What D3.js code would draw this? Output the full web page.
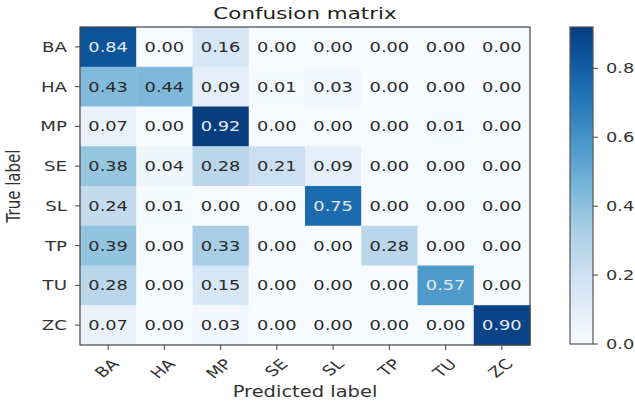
<!DOCTYPE html>
<html>
<head>
<meta charset="utf-8">
<script src="https://cdn.jsdelivr.net/npm/d3@7"></script>
<style>
  body { margin: 0; background: #fff; }
  svg text { font-family: "DejaVu Sans", sans-serif; }
</style>
</head>
<body>
<div id="chart"></div>
<script>
const classes = ["BA", "HA", "MP", "SE", "SL", "TP", "TU", "ZC"];
const matrix = [
  [0.84, 0.00, 0.16, 0.00, 0.00, 0.00, 0.00, 0.00],
  [0.43, 0.44, 0.09, 0.01, 0.03, 0.00, 0.00, 0.00],
  [0.07, 0.00, 0.92, 0.00, 0.00, 0.00, 0.01, 0.00],
  [0.38, 0.04, 0.28, 0.21, 0.09, 0.00, 0.00, 0.00],
  [0.24, 0.01, 0.00, 0.00, 0.75, 0.00, 0.00, 0.00],
  [0.39, 0.00, 0.33, 0.00, 0.00, 0.28, 0.00, 0.00],
  [0.28, 0.00, 0.15, 0.00, 0.00, 0.00, 0.57, 0.00],
  [0.07, 0.00, 0.03, 0.00, 0.00, 0.00, 0.00, 0.90]
];
const barTicks = [0, 0.2, 0.4, 0.6, 0.8];

const width = 635, height = 402;
const sx = 1.3; // the picture is stretched sideways
const plot = { left: 80, top: 27, right: 530, bottom: 345 };
const bar = { left: 570, right: 593 };

const svg = d3.select("#chart").append("svg")
  .attr("width", width)
  .attr("height", height);

const vmax = d3.max(matrix.flat());
// reference looks a little washed out at the dark end
const color = d3.scaleSequential(d3.interpolateBlues).domain([0, vmax / 0.95]);

const x = d3.scaleBand().domain(classes).range([plot.left, plot.right]);
const y = d3.scaleBand().domain(classes).range([plot.top, plot.bottom]);

const cells = [];
matrix.forEach((row, i) => row.forEach((v, j) => cells.push({ t: classes[i], p: classes[j], v })));

svg.append("g").selectAll("rect")
  .data(cells)
  .join("rect")
  .attr("x", d => x(d.p))
  .attr("y", d => y(d.t))
  .attr("width", x.bandwidth() + 0.5)
  .attr("height", y.bandwidth() + 0.5)
  .attr("fill", d => color(d.v));

svg.append("g").selectAll("text")
  .data(cells)
  .join("text")
  .attr("transform", d => `translate(${x(d.p) + x.bandwidth() / 2},${y(d.t) + y.bandwidth() / 2}) scale(${sx},1)`)
  .attr("text-anchor", "middle")
  .attr("dy", "0.36em")
  .attr("font-size", "13.7px")
  .attr("fill", d => d.v > vmax / 2 ? "#e4ebf5" : "#2a2a2a")
  .text(d => d.v.toFixed(2));

// frame
svg.append("rect")
  .attr("x", plot.left)
  .attr("y", plot.top)
  .attr("width", plot.right - plot.left)
  .attr("height", plot.bottom - plot.top)
  .attr("fill", "none")
  .attr("stroke", "#444")
  .attr("stroke-width", 1.2);

// y axis ticks
const yAxis = svg.append("g");
yAxis.selectAll("line")
  .data(classes)
  .join("line")
  .attr("x1", plot.left - 5)
  .attr("x2", plot.left)
  .attr("y1", d => y(d) + y.bandwidth() / 2)
  .attr("y2", d => y(d) + y.bandwidth() / 2)
  .attr("stroke", "#444");
yAxis.selectAll("text")
  .data(classes)
  .join("text")
  .attr("transform", d => `translate(${plot.left - 13},${y(d) + y.bandwidth() / 2}) scale(${sx},1)`)
  .attr("text-anchor", "end")
  .attr("dy", "0.36em")
  .attr("font-size", "14px")
  .attr("fill", "#333")
  .text(d => d);

// x axis ticks
const xAxis = svg.append("g");
xAxis.selectAll("line")
  .data(classes)
  .join("line")
  .attr("x1", d => x(d) + x.bandwidth() / 2)
  .attr("x2", d => x(d) + x.bandwidth() / 2)
  .attr("y1", plot.bottom)
  .attr("y2", plot.bottom + 5)
  .attr("stroke", "#444");
xAxis.selectAll("text")
  .data(classes)
  .join("text")
  .attr("transform", d => `translate(${x(d) + x.bandwidth() / 2 + 3},${plot.bottom + 13}) scale(${sx},1) rotate(-45)`)
  .attr("text-anchor", "end")
  .attr("dy", "0.7em")
  .attr("font-size", "14px")
  .attr("fill", "#333")
  .text(d => d);

// title and axis labels
svg.append("text")
  .attr("transform", `translate(${(plot.left + plot.right) / 2},19) scale(${sx},1)`)
  .attr("text-anchor", "middle")
  .attr("font-size", "16.5px")
  .attr("fill", "#222")
  .text("Confusion matrix");

svg.append("text")
  .attr("transform", `translate(${(plot.left + plot.right) / 2},397) scale(${sx},1)`)
  .attr("text-anchor", "middle")
  .attr("font-size", "15px")
  .attr("fill", "#333")
  .text("Predicted label");

svg.append("text")
  .attr("transform", `translate(20,${(plot.top + plot.bottom) / 2}) scale(${sx},1) rotate(-90)`)
  .attr("text-anchor", "middle")
  .attr("font-size", "15px")
  .attr("fill", "#333")
  .text("True label");

// colorbar
const cb = d3.scaleLinear().domain([0, vmax]).range([plot.bottom - 1, plot.top]);
const grad = svg.append("defs").append("linearGradient")
  .attr("id", "cbar")
  .attr("x1", 0).attr("y1", 1).attr("x2", 0).attr("y2", 0);
grad.selectAll("stop")
  .data(d3.range(0, 1.0001, 0.05))
  .join("stop")
  .attr("offset", d => d)
  .attr("stop-color", d => color(d * vmax));

svg.append("rect")
  .attr("x", bar.left)
  .attr("y", cb.range()[1])
  .attr("width", bar.right - bar.left)
  .attr("height", cb.range()[0] - cb.range()[1])
  .attr("fill", "url(#cbar)")
  .attr("stroke", "#555")
  .attr("stroke-width", 1.2);

const cbAxis = svg.append("g");
cbAxis.selectAll("line")
  .data(barTicks)
  .join("line")
  .attr("x1", bar.right)
  .attr("x2", bar.right + 5)
  .attr("y1", d => cb(d))
  .attr("y2", d => cb(d))
  .attr("stroke", "#444");
cbAxis.selectAll("text")
  .data(barTicks)
  .join("text")
  .attr("transform", d => `translate(${bar.right + 13},${cb(d)}) scale(${sx},1)`)
  .attr("dy", "0.36em")
  .attr("font-size", "13.7px")
  .attr("fill", "#333")
  .text(d => d.toFixed(1));
</script>
</body>
</html>
